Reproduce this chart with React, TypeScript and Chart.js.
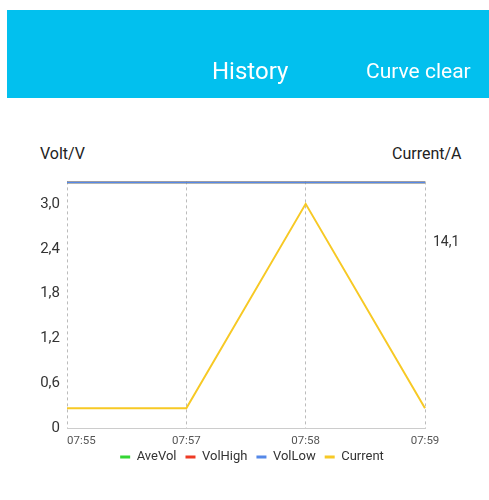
import React, { useEffect, useRef } from "react";
import { Chart, registerables } from "chart.js";

Chart.register(...registerables);

const timeLabels = ["07:55", "07:57", "07:58", "07:59"];
const aveVol = [3.29, 3.29, 3.29, 3.29];
const volHigh = [3.29, 3.29, 3.29, 3.29];
const volLow = [3.29, 3.29, 3.29, 3.29];
const current = [0.27, 0.27, 3.0, 0.27];
const leftTicks = [0, 0.6, 1.2, 1.8, 2.4, 3.0];
const rightTicks = [14.1];

const FONT = "Roboto, 'Noto Sans', sans-serif";

const fmt = (v: number) => (v === 0 ? "0" : v.toFixed(1).replace(".", ","));

const xLabelPlugin = {
  id: "xLabels",
  afterDraw(chart: any) {
    const x = chart.scales.x;
    const ctx = chart.ctx;
    ctx.save();
    ctx.font = `11.5px ${FONT}`;
    ctx.fillStyle = "#555";
    ctx.textBaseline = "middle";
    const y = chart.chartArea.bottom + 13;
    timeLabels.forEach((lab, i) => {
      const px = x.getPixelForTick(i);
      ctx.textAlign = i === 0 ? "left" : "center";
      ctx.fillText(lab, px, y);
    });
    ctx.restore();
  },
};

export default function App() {
  const ref = useRef<HTMLCanvasElement>(null);
  useEffect(() => {
    if (!ref.current) return;
    const chart = new Chart(ref.current, {
      type: "line",
      data: {
        labels: timeLabels,
        datasets: [
          { label: "AveVol", data: aveVol, borderColor: "#33d633", backgroundColor: "#33d633", yAxisID: "y", order: 3 },
          { label: "VolHigh", data: volHigh, borderColor: "#ee3a24", backgroundColor: "#ee3a24", yAxisID: "y", order: 2 },
          { label: "VolLow", data: volLow, borderColor: "#5588e8", backgroundColor: "#5588e8", yAxisID: "y", order: 1 },
          { label: "Current", data: current, borderColor: "#f7c925", backgroundColor: "#f7c925", yAxisID: "y", order: 0 },
        ].map((d) => ({ ...d, borderWidth: 2, pointRadius: 0, tension: 0, fill: false })),
      },
      options: {
        animation: false,
        responsive: false,
        maintainAspectRatio: false,
        layout: { padding: { left: 15, top: 0, right: 0, bottom: 1.5 } },
        plugins: {
          tooltip: { enabled: false },
          legend: {
            position: "bottom",
            labels: {
              boxWidth: 10,
              boxHeight: 3,
              padding: 9,
              color: "#333",
              font: { family: FONT, size: 13 },
              generateLabels: (c: any) =>
                Chart.defaults.plugins.legend.labels
                  .generateLabels(c)
                  .map((l: any) => ({
                    ...l,
                    lineWidth: 0,
                    fillStyle: l.strokeStyle,
                  }))
                  .sort((a: any, b: any) => a.datasetIndex - b.datasetIndex),
            },
          },
        },
        scales: {
          x: {
            type: "category",
            offset: false,
            grid: { display: true, color: "#bbb", lineWidth: 1, drawTicks: false },
            border: { display: true, color: "#ccc", width: 1, dash: [3, 3] },
            ticks: { display: false },
            afterFit: (s: any) => {
              s.height = 13;
            },
          },
          y: {
            position: "left",
            min: 0,
            max: 3.3,
            grid: { display: false, drawTicks: false },
            border: { display: false },
            ticks: {
              padding: 7,
              color: "#333",
              font: { family: FONT, size: 15 },
              callback: (v: any) => fmt(Number(v)),
            },
            afterBuildTicks: (s: any) => {
              s.ticks = leftTicks.map((v) => ({ value: v }));
            },
            afterFit: (s: any) => {
              s.width = 44;
            },
          },
          y1: {
            position: "right",
            min: 0,
            max: 18.7,
            grid: { display: false, drawTicks: false },
            border: { display: false },
            ticks: {
              padding: 8,
              color: "#333",
              font: { family: FONT, size: 14 },
              callback: (v: any) => fmt(Number(v)),
            },
            afterBuildTicks: (s: any) => {
              s.ticks = rightTicks.map((v) => ({ value: v }));
            },
            afterFit: (s: any) => {
              s.width = 56;
            },
          },
        },
      },
      plugins: [xLabelPlugin],
    } as any);
    return () => chart.destroy();
  }, []);

  return (
    <div style={{ position: "relative", width: 473, height: 480, fontFamily: FONT }}>
      <div
        style={{
          position: "fixed",
          left: 7,
          top: 10,
          right: 0,
          height: 88,
          background: "#02C0EE",
        }}
      />
      <div
        style={{
          position: "absolute",
          left: 204,
          top: 48.8,
          fontSize: 24,
          lineHeight: "28px",
          color: "#fff",
          whiteSpace: "nowrap",
        }}
      >
        History
      </div>
      <div
        style={{
          position: "absolute",
          left: 358,
          top: 50.6,
          fontSize: 21,
          lineHeight: "25px",
          color: "#fff",
          whiteSpace: "nowrap",
        }}
      >
        Curve clear
      </div>
      <div
        style={{
          position: "absolute",
          left: 32,
          top: 135.5,
          fontSize: 16,
          lineHeight: "19px",
          color: "#222",
          whiteSpace: "nowrap",
        }}
      >
        Volt/V
      </div>
      <div
        style={{
          position: "absolute",
          left: 384,
          top: 135.5,
          fontSize: 16,
          lineHeight: "19px",
          color: "#222",
          whiteSpace: "nowrap",
        }}
      >
        Current/A
      </div>
      <canvas
        ref={ref}
        width={473}
        height={310}
        style={{ position: "absolute", left: 0, top: 157, width: 473, height: 310 }}
      />
    </div>
  );
}
